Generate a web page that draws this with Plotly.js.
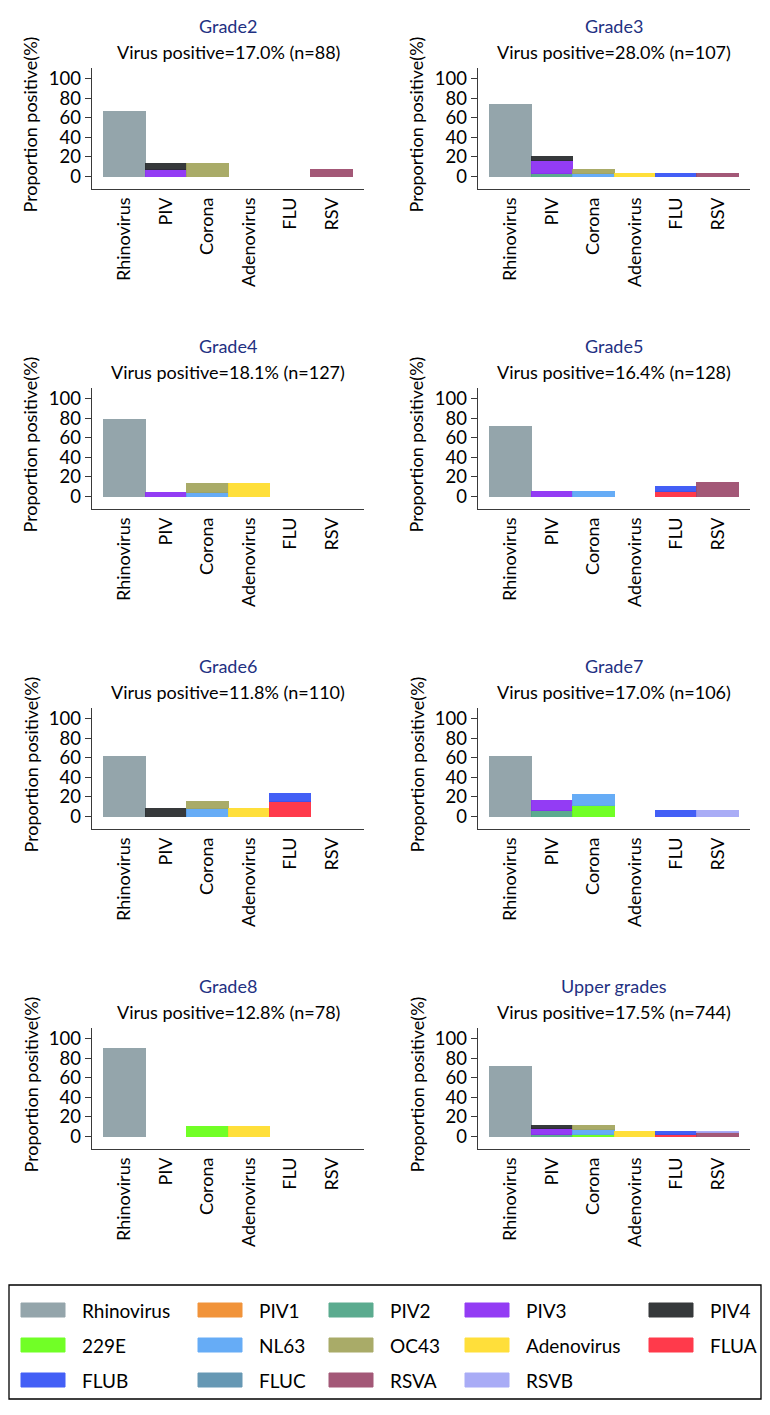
<!DOCTYPE html>
<html><head><meta charset="utf-8">
<script src="https://cdn.plot.ly/plotly-3.0.1.min.js"></script>
<style>html,body{margin:0;padding:0;background:#fff}</style>
</head><body><div id="chart" style="width:770px;height:1415px"></div>
<script>
// ---------- DATA ----------
const categories = ['Rhinovirus', 'PIV', 'Corona', 'Adenovirus', 'FLU', 'RSV'];
const panelTitles = ['Grade2', 'Grade3', 'Grade4', 'Grade5', 'Grade6', 'Grade7', 'Grade8', 'Upper grades'];
const positivePct = ['17.0', '28.0', '18.1', '16.4', '11.8', '17.0', '12.8', '17.5'];
const sampleN = [88, 107, 127, 128, 110, 106, 78, 744];

const subtypes = ['Rhinovirus', 'PIV1', 'PIV2', 'PIV3', 'PIV4', '229E', 'NL63', 'OC43', 'Adenovirus', 'FLUA', 'FLUB', 'FLUC', 'RSVA', 'RSVB'];
const subtypeCategory = ['Rhinovirus', 'PIV', 'PIV', 'PIV', 'PIV', 'Corona', 'Corona', 'Corona', 'Adenovirus', 'FLU', 'FLU', 'FLU', 'RSV', 'RSV'];

// percent of positives, one value per panel (Grade2..Grade8, Upper grades)
const rhinovirus = [66.7, 73.3, 78.3, 71.4, 61.5, 61.1, 90.0, 71.5];
const piv1       = [0, 0, 0, 0, 0, 0, 0, 0];
const piv2       = [0, 3.3, 0, 0, 0, 5.6, 0, 1.5];
const piv3       = [6.7, 13.3, 4.3, 4.8, 0, 11.1, 0, 6.9];
const piv4       = [6.7, 3.3, 0, 0, 7.7, 0, 0, 2.3];
const cov229e    = [0, 0, 0, 0, 0, 11.1, 10.0, 2.3];
const nl63       = [0, 3.3, 4.3, 4.8, 7.7, 11.1, 0, 4.6];
const oc43       = [13.3, 3.3, 8.7, 0, 7.7, 0, 0, 4.6];
const adenovirus = [0, 3.3, 13.0, 0, 7.7, 0, 10.0, 4.6];
const flua       = [0, 0, 0, 4.8, 15.4, 0, 0, 2.3];
const flub       = [0, 3.3, 0, 4.8, 7.7, 5.6, 0, 3.1];
const fluc       = [0, 0, 0, 0, 0, 0, 0, 0];
const rsva       = [6.7, 3.3, 0, 14.3, 0, 0, 0, 3.8];
const rsvb       = [0, 0, 0, 0, 0, 5.6, 0, 0.8];

const yTickVals = [0, 20, 40, 60, 80, 100];

// ---------- STYLE ----------
const subtypeValues = [rhinovirus, piv1, piv2, piv3, piv4, cov229e, nl63, oc43, adenovirus, flua, flub, fluc, rsva, rsvb];
const subtypeColors = ['#8c9ea4', '#f08a2a', '#4ea486', '#8a2cf4', '#26292b', '#66ff14', '#5aa6f6', '#a2a45c', '#ffdd2a', '#ff2a3c', '#3452f6', '#5a90ae', '#9c4a6c', '#a2a6f6'];

const W = 770, H = 1415;
const FONT = 'Lato, "Open Sans", sans-serif';
const colLeft = [92, 478];       // y-axis pixel x
const plotW = 272;
const rowTop = [68, 388, 708, 1028];
const plotH = 121;

const traces = [];
const layout = {
  width: W, height: H,
  margin: {l: 0, r: 0, t: 0, b: 0},
  paper_bgcolor: '#fff', plot_bgcolor: '#fff',
  barmode: 'stack', bargap: 0,
  showlegend: false,
  font: {family: FONT, color: '#000', size: 16},
  annotations: [], shapes: []
};

panelTitles.forEach((title, p) => {
  const col = p % 2, row = Math.floor(p / 2);
  const idx = p === 0 ? '' : String(p + 1);
  const x0 = colLeft[col], x1 = x0 + plotW;
  const yTop = rowTop[row], yBot = yTop + plotH;
  layout['xaxis' + idx] = {
    domain: [x0 / W, x1 / W], anchor: 'y' + idx,
    type: 'category', categoryorder: 'array', categoryarray: categories,
    range: [-0.78, 5.78], tickangle: -90, ticks: '',
    showline: true, linecolor: '#3a3a3a', linewidth: 1.3,
    showgrid: false, zeroline: false, fixedrange: true,
    tickfont: {family: FONT, size: 18, color: '#000'}
  };
  layout['yaxis' + idx] = {
    domain: [1 - yBot / H, 1 - yTop / H], anchor: 'x' + idx,
    range: [-13, 111], tickvals: yTickVals, ticks: 'outside', ticklen: 6, tickwidth: 1.3, tickcolor: '#3a3a3a',
    showline: true, linecolor: '#3a3a3a', linewidth: 1.3,
    showgrid: false, zeroline: false, fixedrange: true,
    tickfont: {family: FONT, size: 18.5, color: '#000'}
  };
  const cx = (x0 + x1) / 2 / W;
  layout.annotations.push({
    text: title, xref: 'paper', yref: 'paper', x: cx, y: 1 - (yTop - 42) / H,
    xanchor: 'center', yanchor: 'middle', showarrow: false,
    font: {family: FONT, size: 18, color: '#1f3182'}
  });
  layout.annotations.push({
    text: 'Virus positive=' + positivePct[p] + '% (n=' + sampleN[p] + ')',
    xref: 'paper', yref: 'paper', x: cx, y: 1 - (yTop - 16) / H,
    xanchor: 'center', yanchor: 'middle', showarrow: false,
    font: {family: FONT, size: 18, color: '#000'}
  });
  layout.annotations.push({
    text: 'Proportion positive(%)', textangle: -90,
    xref: 'paper', yref: 'paper', x: (x0 - 62) / W, y: 1 - (yTop + plotH / 2 - 4) / H,
    xanchor: 'center', yanchor: 'middle', showarrow: false,
    font: {family: FONT, size: 18, color: '#000'}
  });
  subtypes.forEach((name, s) => {
    const v = subtypeValues[s][p];
    if (!v) return;
    traces.push({
      type: 'bar', name: name, x: [subtypeCategory[s]], y: [v],
      xaxis: 'x' + idx, yaxis: 'y' + idx, width: 1,
      marker: {color: subtypeColors[s], opacity: 0.92, line: {color: subtypeColors[s], width: 1}},
      hoverinfo: 'name+y'
    });
  });
});

// ---------- custom legend ----------
const legBox = {x0: 9, x1: 761, y0: 1285, y1: 1399};
layout.shapes.push({type: 'rect', xref: 'paper', yref: 'paper',
  x0: legBox.x0 / W, x1: legBox.x1 / W, y0: 1 - legBox.y1 / H, y1: 1 - legBox.y0 / H,
  line: {color: '#000', width: 1.3}, fillcolor: 'rgba(0,0,0,0)'});
const legColX = [21, 198, 329, 465, 649];
const legRowY = [1310, 1345, 1380];
subtypes.forEach((name, s) => {
  const c = s % 5, r = Math.floor(s / 5);
  const sx = legColX[c], sy = legRowY[r];
  layout.shapes.push({type: 'rect', xref: 'paper', yref: 'paper',
    x0: sx / W, x1: (sx + 44) / W, y0: 1 - (sy + 7) / H, y1: 1 - (sy - 7) / H,
    fillcolor: subtypeColors[s], opacity: 0.92, line: {color: subtypeColors[s], width: 1}});
  layout.annotations.push({text: name, xref: 'paper', yref: 'paper',
    x: (sx + 59) / W, y: 1 - sy / H, xanchor: 'left', yanchor: 'middle', showarrow: false,
    font: {family: FONT, size: 19, color: '#000'}});
});

Plotly.newPlot('chart', traces, layout, {displayModeBar: false, staticPlot: true});
</script></body></html>
